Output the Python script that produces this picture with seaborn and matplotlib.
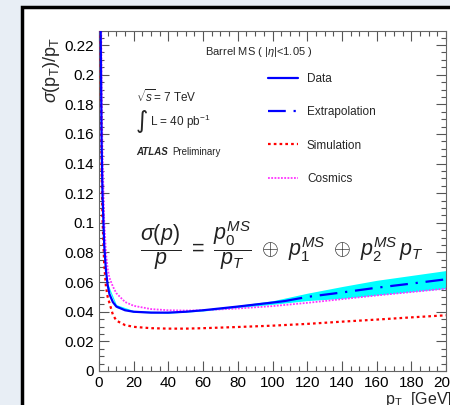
import matplotlib
matplotlib.use("Agg")
import matplotlib.pyplot as plt
import matplotlib.patches as mpatches
from matplotlib.lines import Line2D
from matplotlib.ticker import MultipleLocator, FuncFormatter
import seaborn as sns

# curve values (pT in GeV, relative resolution)
pt_data = [0.8, 1, 1.5, 2, 3, 4, 5, 6, 8, 10, 15, 20, 30, 40, 50, 60, 80, 100, 107]
res_data = [0.28, 0.225, 0.155, 0.12, 0.085, 0.068, 0.058, 0.052, 0.0465, 0.0435,
            0.041, 0.0400, 0.0394, 0.0394, 0.0400, 0.0410, 0.0435, 0.0462, 0.0472]

pt_extra = [107, 120, 140, 160, 180, 200]
res_extra = [0.0472, 0.0500, 0.0530, 0.0562, 0.0590, 0.0619]

pt_band = [5, 10, 20, 40, 60, 80, 100, 120, 140, 160, 180, 200]
band_lo = [0.057, 0.0428, 0.0396, 0.0390, 0.0405, 0.0428, 0.0450, 0.0475, 0.0490, 0.0512, 0.0535, 0.0556]
band_hi = [0.059, 0.0448, 0.0408, 0.0399, 0.0416, 0.0443, 0.0474, 0.0525, 0.0570, 0.0612, 0.0645, 0.0678]

pt_sim = [0.8, 1, 1.5, 2, 3, 4, 5, 6, 8, 10, 15, 20, 30, 40, 50, 60, 80, 100, 120, 140, 160, 180, 200]
res_sim = [0.25, 0.202, 0.135, 0.103, 0.072, 0.057, 0.050, 0.046, 0.038, 0.034, 0.031, 0.0298,
           0.0289, 0.0286, 0.0286, 0.0289, 0.0297, 0.0306, 0.0318, 0.0333, 0.0347, 0.0362, 0.0376]

pt_cos = [0.8, 1, 1.5, 2, 3, 4, 5, 6, 8, 10, 15, 20, 30, 40, 50, 60, 80, 100, 120, 140, 160, 180, 200]
res_cos = [0.35, 0.29, 0.195, 0.148, 0.102, 0.080, 0.069, 0.063, 0.057, 0.0525, 0.0466, 0.0440,
           0.0418, 0.0410, 0.0408, 0.0410, 0.0422, 0.0438, 0.0460, 0.0485, 0.0510, 0.0533, 0.0556]

x_ticks = [0, 20, 40, 60, 80, 100, 120, 140, 160, 180, 200]
y_ticks = [0, 0.02, 0.04, 0.06, 0.08, 0.1, 0.12, 0.14, 0.16, 0.18, 0.2, 0.22]
legend_labels = ["Data", "Extrapolation", "Simulation", "Cosmics"]

sns.set_style("ticks")
plt.rcParams["font.family"] = ["Liberation Sans", "DejaVu Sans"]
plt.rcParams["mathtext.fontset"] = "custom"
plt.rcParams["mathtext.rm"] = "Liberation Sans"
plt.rcParams["mathtext.it"] = "Liberation Sans:italic"
plt.rcParams["mathtext.bf"] = "Liberation Sans:bold"

W, H = 450, 405
fig = plt.figure(figsize=(4.5, 4.05), dpi=100, facecolor="#e8eef5")

# canvas frame (cut off at right and bottom)
fig.add_artist(mpatches.Rectangle((21.5 / W, -0.2), 1.0, 1.2 - 6.5 / H,
                                  transform=fig.transFigure, facecolor="white",
                                  edgecolor="black", linewidth=2.5, zorder=0))

ax = fig.add_axes([99 / W, 1 - 371 / H, 347 / W, 340 / H])
ax.set_facecolor("white")

extra_ls = (0, (8, 3.5, 1, 3.5))
ax.fill_between(pt_band, band_lo, band_hi, color="#00ffff", linewidth=0, zorder=1)
sns.lineplot(x=pt_cos, y=res_cos, ax=ax, color="#ff33ff", linewidth=1.3,
             linestyle=(0, (1, 0.8)), sort=False, zorder=2)
sns.lineplot(x=pt_sim, y=res_sim, ax=ax, color="#ff0000", linewidth=1.6,
             linestyle=(0, (1.2, 1.4)), sort=False, zorder=3)
sns.lineplot(x=pt_data, y=res_data, ax=ax, color="#0000ff", linewidth=1.6,
             sort=False, zorder=4)
sns.lineplot(x=pt_extra, y=res_extra, ax=ax, color="#0000ff", linewidth=1.6,
             linestyle=extra_ls, sort=False, zorder=4)

ax.set_xlim(0, 200)
ax.set_ylim(0, 0.2295)
ax.set_xticks(x_ticks)
ax.set_yticks(y_ticks)
ax.xaxis.set_minor_locator(MultipleLocator(5))
ax.yaxis.set_minor_locator(MultipleLocator(0.005))
fmt = FuncFormatter(lambda v, p: f"{v:g}")
ax.xaxis.set_major_formatter(fmt)
ax.yaxis.set_major_formatter(fmt)
ax.tick_params(which="both", direction="in", top=True, right=True, color="#555555",
               labelsize=11, labelcolor="black")
ax.tick_params(which="major", length=7.2, width=0.8)
ax.tick_params(which="minor", length=3.6, width=0.8)
for s in ax.spines.values():
    s.set_color("#666666")
    s.set_linewidth(0.8)

# legend
handles = [
    Line2D([], [], color="#0000ff", linewidth=1.6),
    Line2D([], [], color="#0000ff", linewidth=1.6, linestyle=extra_ls),
    Line2D([], [], color="#ff0000", linewidth=1.6, linestyle=(0, (1.2, 1.4))),
    Line2D([], [], color="#ff33ff", linewidth=1.3, linestyle=(0, (1, 0.8))),
]
ax.legend(handles, legend_labels, loc="upper left", bbox_to_anchor=((268 - 99) / 347, (371 - 73) / 340),
          frameon=False, fontsize=8.5, handlelength=2.55, handletextpad=0.75,
          labelspacing=1.8, borderpad=0, borderaxespad=0)

ax.text((205 - 99) / 347, (371 - 52) / 340, r"Barrel MS ( |$\eta$|<1.05 )", transform=ax.transAxes,
        fontsize=8, va="center", ha="left")
ax.text((136 - 99) / 347, (371 - 97) / 340, r"$\sqrt{s}$= 7 TeV", transform=ax.transAxes,
        fontsize=8.5, va="center", ha="left")
ax.text((136 - 99) / 347, (371 - 121) / 340, "\u222b", transform=ax.transAxes,
        fontsize=17, va="center", ha="left", family=["DejaVu Sans"])
ax.text((150 - 99) / 347, (371 - 122) / 340, r"L = 40 pb$^{-1}$", transform=ax.transAxes,
        fontsize=8.5, va="center", ha="left")
ax.text((136 - 99) / 347, (371 - 152) / 340, "ATLAS", transform=ax.transAxes,
        fontsize=7, va="center", ha="left", fontweight="bold", fontstyle="italic")
ax.text((172 - 99) / 347, (371 - 152) / 340, "Preliminary", transform=ax.transAxes,
        fontsize=7, va="center", ha="left")

ax.text((140 - 99) / 347, (371 - 246) / 340,
        r"$\dfrac{\sigma(p)}{p}\ =\ \dfrac{p_0^{MS}}{p_T}\ \oplus\ p_1^{MS}\ \oplus\ p_2^{MS}\,p_T$",
        transform=ax.transAxes, fontsize=15.5, va="center", ha="left", color="#222222")

fig.text(52 / W, 1 - 37 / H, r"$\sigma$(p$_\mathregular{T}$)/p$_\mathregular{T}$", rotation=90,
         ha="center", va="top", fontsize=13)
fig.text(452 / W, 1 - 390 / H, r"p$_\mathregular{T}$  [GeV]", ha="right", va="top", fontsize=11.5)

fig.savefig("out.png", dpi=100, facecolor=fig.get_facecolor())
